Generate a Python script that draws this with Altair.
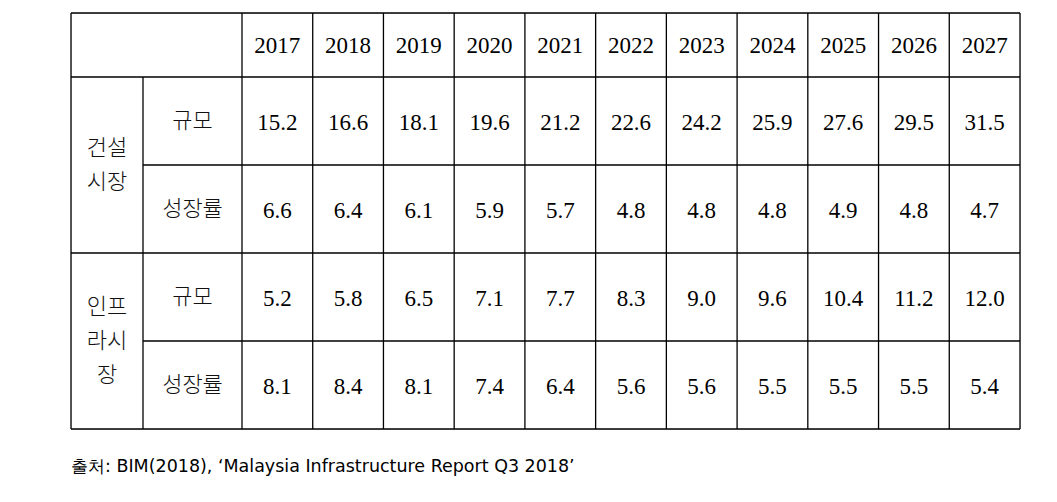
import altair as alt
import pandas as pd
import numpy as np

# ---- data ----
years = [2017, 2018, 2019, 2020, 2021, 2022, 2023, 2024, 2025, 2026, 2027]
construction_size = [15.2, 16.6, 18.1, 19.6, 21.2, 22.6, 24.2, 25.9, 27.6, 29.5, 31.5]
construction_growth = [6.6, 6.4, 6.1, 5.9, 5.7, 4.8, 4.8, 4.8, 4.9, 4.8, 4.7]
infra_size = [5.2, 5.8, 6.5, 7.1, 7.7, 8.3, 9.0, 9.6, 10.4, 11.2, 12.0]
infra_growth = [8.1, 8.4, 8.1, 7.4, 6.4, 5.6, 5.6, 5.5, 5.5, 5.5, 5.4]
group_labels = [["건설", "시장"], ["인프", "라시", "장"]]
metric_labels = ["규모", "성장률"]
source_text = "출처: BIM(2018), ‘Malaysia Infrastructure Report Q3 2018’"

# ---- layout (table geometry) ----
col_w = [72, 99] + [70.73] * len(years)
row_h = [64, 88, 88, 88, 88]
line_gap = 34
xe = np.concatenate([[0], np.cumsum(col_w)])
ye = np.concatenate([[0], np.cumsum(row_h)])
W, H = float(xe[-1]), float(ye[-1])

def cx(c):
    return (xe[c] + xe[c + 1]) / 2

def cy(r):
    return (ye[r] + ye[r + 1]) / 2

# ---- cells ----
cells = []
for i, yv in enumerate(years):
    cells.append(dict(x=cx(i + 2), y=cy(0) + 1, label=str(yv), kind="num"))
series = [construction_size, construction_growth, infra_size, infra_growth]
for r, s in enumerate(series):
    for i, v in enumerate(s):
        cells.append(dict(x=cx(i + 2), y=cy(r + 1) + 2, label=f"{v:.1f}", kind="num"))
for g, lines_ in enumerate(group_labels):
    center = (ye[1 + 2 * g] + ye[3 + 2 * g]) / 2
    n = len(lines_)
    for k, t in enumerate(lines_):
        cells.append(dict(x=cx(0), y=center + (k - (n - 1) / 2) * line_gap, label=t, kind="kor"))
    for m, ml in enumerate(metric_labels):
        cells.append(dict(x=cx(1), y=cy(1 + 2 * g + m), label=ml, kind="kor"))
cells_df = pd.DataFrame(cells)

# ---- grid lines ----
lines = []
for r, yy in enumerate(ye):
    x_start = xe[1] if r in (2, 4) else xe[0]
    lines.append(dict(x=x_start, x2=W, y=yy, y2=yy))
for c, xx in enumerate(xe):
    y_start = ye[1] if c == 1 else ye[0]
    lines.append(dict(x=xx, x2=xx, y=y_start, y2=H))
lines_df = pd.DataFrame(lines)

xs = alt.Scale(domain=[0, W], range=[0, W])
ys = alt.Scale(domain=[0, H], range=[0, H])

grid = alt.Chart(lines_df).mark_rule(color="black", strokeWidth=1.3).encode(
    x=alt.X("x:Q", scale=xs, axis=None),
    x2="x2:Q",
    y=alt.Y("y:Q", scale=ys, axis=None),
    y2="y2:Q",
)

nums = alt.Chart(cells_df[cells_df.kind == "num"]).mark_text(
    font="Liberation Serif", fontSize=23, color="black", align="center", baseline="middle"
).encode(
    x=alt.X("x:Q", scale=xs, axis=None),
    y=alt.Y("y:Q", scale=ys, axis=None),
    text="label:N",
)

kor = alt.Chart(cells_df[cells_df.kind == "kor"]).mark_text(
    font="Noto Sans CJK KR", fontSize=22, fontWeight=300, color="#111111",
    align="center", baseline="middle",
).encode(
    x=alt.X("x:Q", scale=xs, axis=None),
    y=alt.Y("y:Q", scale=ys, axis=None),
    text="label:N",
)

src_df = pd.DataFrame([dict(x=0, y=H + 38, label=source_text)])
src = alt.Chart(src_df).mark_text(
    font="DejaVu Sans", fontSize=17.5, color="black", align="left", baseline="middle"
).encode(
    x=alt.X("x:Q", scale=xs, axis=None),
    y=alt.Y("y:Q", scale=ys, axis=None),
    text="label:N",
)

chart = alt.layer(grid, nums, kor, src).properties(
    width=W, height=H,
    autosize=alt.AutoSizeParams(type="none"),
    padding={"left": 63, "top": 5, "right": 29, "bottom": 65},
).configure_view(stroke=None).configure(background="white")

chart.save("out.html", embed_options={"renderer": "svg", "actions": False})
